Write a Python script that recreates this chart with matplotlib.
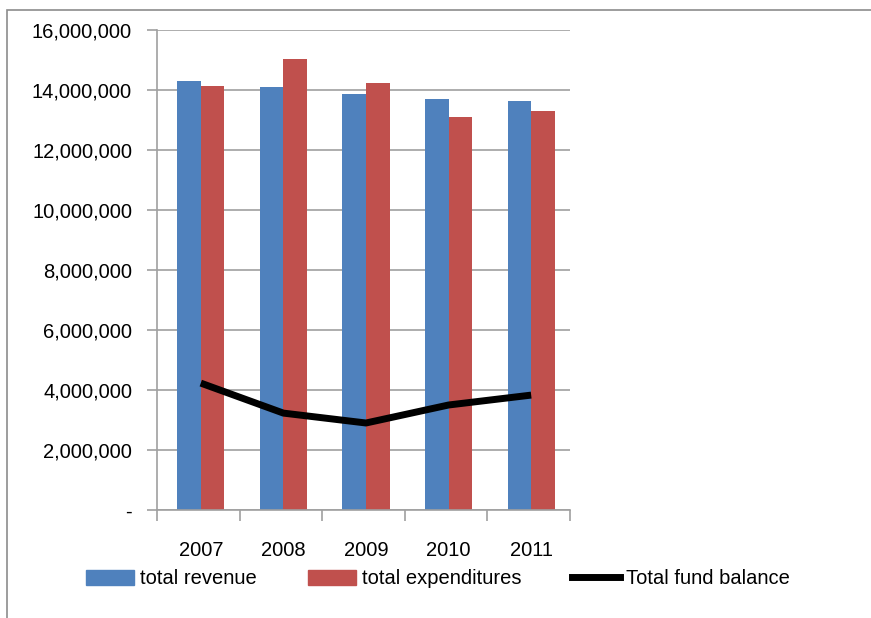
import matplotlib
matplotlib.use("Agg")
import matplotlib.pyplot as plt
from matplotlib.patches import Rectangle
from matplotlib.lines import Line2D
from matplotlib.ticker import FuncFormatter
import numpy as np

years = ["2007", "2008", "2009", "2010", "2011"]
total_revenue = [14300000, 14100000, 13870000, 13700000, 13630000]
total_expenditures = [14130000, 15030000, 14230000, 13100000, 13300000]
total_fund_balance = [4230000, 3230000, 2900000, 3500000, 3830000]

blue = "#4f81bd"
red = "#c0504d"
grid_col = "#a0a0a0"

plt.rcParams["font.family"] = ["Liberation Sans", "DejaVu Sans"]
plt.rcParams["font.size"] = 14.5

fig = plt.figure(figsize=(8.71, 6.18), dpi=100)
# chart area border (cut off at right and bottom)
fig.patches.append(Rectangle((7 / 871, -0.1), 1.2, 1 - 10 / 618 + 0.1,
                             transform=fig.transFigure, fill=False,
                             edgecolor="#8c8c8c", linewidth=1.2))

ax = fig.add_axes([157 / 871, 1 - 510 / 618, 413 / 871, 480 / 618])
x = np.arange(len(years))
w = 0.285
ax.bar(x - w / 2 + 0.03, total_revenue, w, color=blue, label="total revenue", zorder=2)
ax.bar(x + w / 2 + 0.03, total_expenditures, w, color=red, label="total expenditures", zorder=2)
ax.plot(x + 0.03, total_fund_balance, color="black", linewidth=5, label="Total fund balance",
        zorder=3, solid_capstyle="butt")

ax.set_ylim(0, 16000000)
ax.set_xlim(-0.5, len(years) - 0.5)
ax.set_yticks(np.arange(0, 16000001, 2000000))
ax.yaxis.set_major_formatter(FuncFormatter(lambda v, p: "-" if v == 0 else f"{int(v):,}"))
ax.grid(axis="y", color=grid_col, linewidth=1.2, zorder=0)

ax.set_xticks(np.arange(-0.5, len(years), 1.0))
ax.set_xticklabels([])
ax.set_xticks(x + 0.03, minor=True)
ax.set_xticklabels(years, minor=True)
ax.tick_params(axis="x", which="major", length=8, color=grid_col, width=1.2)
ax.tick_params(axis="x", which="minor", length=0, pad=22)
ax.tick_params(axis="y", length=7, color=grid_col, width=1.2, pad=11)

for s in ["top", "right"]:
    ax.spines[s].set_visible(False)
for s in ["left", "bottom"]:
    ax.spines[s].set_color(grid_col)
    ax.spines[s].set_linewidth(1.2)

handles = [Rectangle((0, 0), 1, 1, color=blue),
           Rectangle((0, 0), 1, 1, color=red),
           Line2D([0], [0], color="black", linewidth=5)]
fig.legend(handles, ["total revenue", "total expenditures", "Total fund balance"],
           loc="center", bbox_to_anchor=(438 / 871, 1 - 579 / 618), ncol=3,
           frameon=False, handlelength=2.4, handleheight=0.8, handletextpad=0.3,
           columnspacing=2.5)

fig.savefig("out.png", dpi=100)
